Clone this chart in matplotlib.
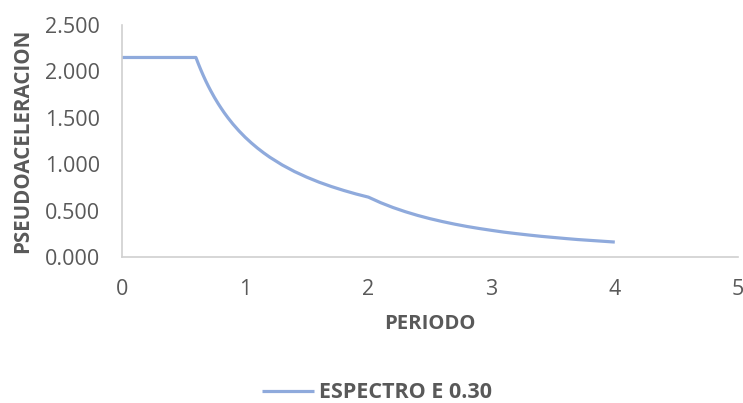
import matplotlib.pyplot as plt

# Espectro de pseudoaceleraciones
periodo = [0.0, 0.1, 0.2, 0.3, 0.4, 0.5, 0.6,
           0.62, 0.64, 0.66, 0.68, 0.70, 0.72, 0.75, 0.78, 0.80, 0.83, 0.86, 0.90,
           0.95, 1.0, 1.05, 1.1, 1.15, 1.2, 1.3, 1.4, 1.5, 1.6, 1.7, 1.8, 1.9, 2.0,
           2.1, 2.2, 2.3, 2.4, 2.5, 2.6, 2.7, 2.8, 2.9, 3.0,
           3.1, 3.2, 3.3, 3.4, 3.5, 3.6, 3.7, 3.8, 3.9, 4.0]
sa = [2.150, 2.150, 2.150, 2.150, 2.150, 2.150, 2.150,
      2.081, 2.016, 1.955, 1.897, 1.843, 1.792, 1.720, 1.654, 1.613, 1.554, 1.500, 1.433,
      1.358, 1.290, 1.229, 1.173, 1.122, 1.075, 0.992, 0.921, 0.860, 0.806, 0.759, 0.717, 0.679, 0.645,
      0.585, 0.533, 0.488, 0.448, 0.413, 0.382, 0.354, 0.329, 0.307, 0.287,
      0.268, 0.252, 0.237, 0.223, 0.211, 0.199, 0.188, 0.179, 0.170, 0.161]

x_ticks = [0, 1, 2, 3, 4, 5]
y_ticks = [0.0, 0.5, 1.0, 1.5, 2.0, 2.5]
y_labels = ['0.000', '0.500', '1.000', '1.500', '2.000', '2.500']

gris = '#595959'
plt.rcParams['font.family'] = ['Open Sans', 'DejaVu Sans']

W, H = 743, 403
fig = plt.figure(figsize=(W / 100, H / 100), dpi=100)
ax = fig.add_axes([122 / W, 1 - 257 / H, (738 - 122) / W, (257 - 25) / H])

ax.plot(periodo, sa, color='#8faadc', linewidth=2.3, label='ESPECTRO E 0.30',
        solid_capstyle='butt')

ax.set_xlim(0, 5)
ax.set_ylim(0, 2.5)
ax.set_xticks(x_ticks)
ax.set_yticks(y_ticks)
ax.set_yticklabels(y_labels)
ax.tick_params(axis='both', length=0, labelsize=15.5, colors=gris)
ax.tick_params(axis='y', pad=16)
ax.tick_params(axis='x', pad=16)

for s in ['top', 'right']:
    ax.spines[s].set_visible(False)
for s in ['left', 'bottom']:
    ax.spines[s].set_color('#d0d0d0')
    ax.spines[s].set_linewidth(1.2)

ax.set_xlabel('PERIODO', fontsize=14.6, fontweight='bold', color=gris, labelpad=10)
ax.set_ylabel('PSEUDOACELERACION', fontsize=14.8, fontweight='bold', color=gris, labelpad=8)

leg = ax.legend(loc='center', bbox_to_anchor=(377 / W, 1 - 393 / H),
                bbox_transform=fig.transFigure, frameon=False, fontsize=15.5,
                handlelength=2.4, handletextpad=0.25)
for t in leg.get_texts():
    t.set_color(gris)
    t.set_fontweight('bold')

fig.savefig('out.png', dpi=100)
